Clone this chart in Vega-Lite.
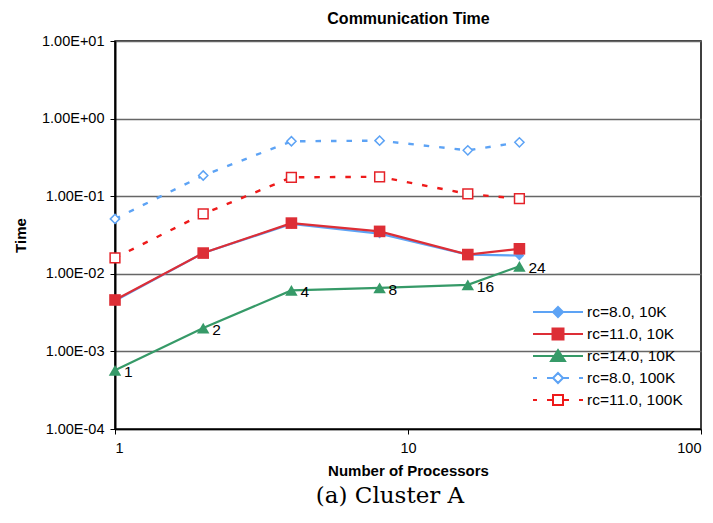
{
  "$schema": "https://vega.github.io/schema/vega-lite/v6.json",
  "width": 586,
  "height": 388,
  "autosize": "none",
  "padding": {"left": 115, "top": 41, "right": 12, "bottom": 94},
  "background": "white",
  "title": {
    "text": "(a) Cluster A",
    "orient": "bottom",
    "anchor": "middle",
    "font": "DejaVu Serif",
    "fontSize": 23,
    "fontWeight": "normal",
    "color": "black",
    "offset": 6,
    "dx": -18
  },
  "config": {
    "view": {"stroke": "black", "strokeWidth": 1.5},
    "font": "Liberation Sans",
    "axis": {
      "labelFont": "Liberation Sans",
      "titleFont": "Liberation Sans",
      "labelColor": "black",
      "titleColor": "black",
      "labelFontSize": 14.5,
      "titleFontSize": 15,
      "titleFontWeight": "bold"
    }
  },
  "data": {
    "values": [
      {"series": "rc=8.0, 10K", "n": 1, "t": 0.0045},
      {"series": "rc=8.0, 10K", "n": 2, "t": 0.0185},
      {"series": "rc=8.0, 10K", "n": 4, "t": 0.044},
      {"series": "rc=8.0, 10K", "n": 8, "t": 0.033},
      {"series": "rc=8.0, 10K", "n": 16, "t": 0.0177},
      {"series": "rc=8.0, 10K", "n": 24, "t": 0.0172},
      {"series": "rc=11.0, 10K", "n": 1, "t": 0.0046},
      {"series": "rc=11.0, 10K", "n": 2, "t": 0.0185},
      {"series": "rc=11.0, 10K", "n": 4, "t": 0.045},
      {"series": "rc=11.0, 10K", "n": 8, "t": 0.0352},
      {"series": "rc=11.0, 10K", "n": 16, "t": 0.0177},
      {"series": "rc=11.0, 10K", "n": 24, "t": 0.021},
      {"series": "rc=14.0, 10K", "n": 1, "t": 0.00057},
      {"series": "rc=14.0, 10K", "n": 2, "t": 0.002},
      {"series": "rc=14.0, 10K", "n": 4, "t": 0.0061},
      {"series": "rc=14.0, 10K", "n": 8, "t": 0.0066},
      {"series": "rc=14.0, 10K", "n": 16, "t": 0.0072},
      {"series": "rc=14.0, 10K", "n": 24, "t": 0.0125},
      {"series": "rc=8.0, 100K", "n": 1, "t": 0.051},
      {"series": "rc=8.0, 100K", "n": 2, "t": 0.185},
      {"series": "rc=8.0, 100K", "n": 4, "t": 0.51},
      {"series": "rc=8.0, 100K", "n": 8, "t": 0.52},
      {"series": "rc=8.0, 100K", "n": 16, "t": 0.39},
      {"series": "rc=8.0, 100K", "n": 24, "t": 0.495},
      {"series": "rc=11.0, 100K", "n": 1, "t": 0.016},
      {"series": "rc=11.0, 100K", "n": 2, "t": 0.059},
      {"series": "rc=11.0, 100K", "n": 4, "t": 0.175},
      {"series": "rc=11.0, 100K", "n": 8, "t": 0.178},
      {"series": "rc=11.0, 100K", "n": 16, "t": 0.107},
      {"series": "rc=11.0, 100K", "n": 24, "t": 0.093}
    ]
  },
  "resolve": {"axis": {"x": "independent"}},
  "layer": [
    {
      "transform": [{"filter": "indexof(datum.series, '100K') < 0"}],
      "mark": {"type": "line", "strokeWidth": 2.2},
      "encoding": {
        "x": {
          "field": "n", "type": "quantitative",
          "scale": {"type": "log", "domain": [1, 100], "nice": false},
          "axis": {
            "orient": "bottom",
            "values": [1, 10, 100],
            "format": "d",
            "grid": false,
            "tickSize": 5,
            "tickColor": "black",
            "domainColor": "black",
            "domainWidth": 1.5,
            "labelPadding": 7,
            "title": "Number of Processors",
            "titlePadding": 9
          }
        },
        "y": {
          "field": "t", "type": "quantitative",
          "scale": {"type": "log", "domain": [0.0001, 10], "nice": false},
          "axis": {
            "values": [0.0001, 0.001, 0.01, 0.1, 1, 10],
            "labelExpr": "'1.00E' + (round(log(datum.value)/LN10) < 0 ? '-' : '+') + (abs(round(log(datum.value)/LN10)) < 10 ? '0' : '') + abs(round(log(datum.value)/LN10))",
            "grid": true,
            "gridColor": "#666666",
            "gridWidth": 1.3,
            "tickSize": 5,
            "tickColor": "black",
            "domainColor": "black",
            "domainWidth": 2,
            "labelPadding": 6,
            "title": "Time",
            "titlePadding": 13
          }
        },
        "stroke": {
          "field": "series", "type": "nominal",
          "scale": {
            "domain": ["rc=8.0, 10K", "rc=11.0, 10K", "rc=14.0, 10K", "rc=8.0, 100K", "rc=11.0, 100K"],
            "range": ["#5DA3F5", "#DD2E36", "#369A68", "#5DA3F5", "#EE1A1A"]
          }
        }
      }
    },
    {
      "transform": [{"filter": "indexof(datum.series, '100K') >= 0"}],
      "mark": {"type": "line", "strokeWidth": 2.4, "strokeDash": [5.5, 10]},
      "encoding": {
        "x": {"field": "n", "type": "quantitative", "axis": null},
        "y": {"field": "t", "type": "quantitative"},
        "stroke": {"field": "series", "type": "nominal"}
      }
    },
    {
      "transform": [{"filter": "datum.series === 'rc=8.0, 10K'"}],
      "mark": {"type": "point", "filled": true, "shape": "diamond", "size": 95, "color": "#5DA3F5", "opacity": 1},
      "encoding": {
        "x": {"field": "n", "type": "quantitative", "axis": null},
        "y": {"field": "t", "type": "quantitative"}
      }
    },
    {
      "transform": [{"filter": "datum.series === 'rc=11.0, 10K'"}],
      "mark": {"type": "point", "filled": true, "shape": "square", "size": 135, "color": "#DD2E36", "opacity": 1},
      "encoding": {
        "x": {"field": "n", "type": "quantitative", "axis": null},
        "y": {"field": "t", "type": "quantitative"}
      }
    },
    {
      "transform": [{"filter": "datum.series === 'rc=14.0, 10K'"}],
      "mark": {"type": "point", "filled": true, "shape": "triangle-up", "size": 155, "color": "#369A68", "opacity": 1},
      "encoding": {
        "x": {"field": "n", "type": "quantitative", "axis": null},
        "y": {"field": "t", "type": "quantitative"}
      }
    },
    {
      "transform": [{"filter": "datum.series === 'rc=8.0, 100K'"}],
      "mark": {"type": "point", "filled": false, "shape": "diamond", "size": 85, "fill": "white", "stroke": "#5DA3F5", "strokeWidth": 1.5, "opacity": 1, "fillOpacity": 1},
      "encoding": {
        "x": {"field": "n", "type": "quantitative", "axis": null},
        "y": {"field": "t", "type": "quantitative"}
      }
    },
    {
      "transform": [{"filter": "datum.series === 'rc=11.0, 100K'"}],
      "mark": {"type": "point", "filled": false, "shape": "square", "size": 95, "fill": "white", "stroke": "#E52228", "strokeWidth": 1.5, "opacity": 1, "fillOpacity": 1},
      "encoding": {
        "x": {"field": "n", "type": "quantitative", "axis": null},
        "y": {"field": "t", "type": "quantitative"}
      }
    },
    {
      "mark": {"type": "point", "filled": true, "opacity": 0},
      "encoding": {
        "x": {"field": "n", "type": "quantitative", "axis": null},
        "y": {"field": "t", "type": "quantitative"},
        "stroke": {"field": "series", "type": "nominal"},
        "fill": {
          "field": "series", "type": "nominal",
          "scale": {
            "domain": ["rc=8.0, 10K", "rc=11.0, 10K", "rc=14.0, 10K", "rc=8.0, 100K", "rc=11.0, 100K"],
            "range": ["#5DA3F5", "#DD2E36", "#369A68", "white", "white"]
          }
        },
        "shape": {
          "field": "series", "type": "nominal",
          "scale": {
            "domain": ["rc=8.0, 10K", "rc=11.0, 10K", "rc=14.0, 10K", "rc=8.0, 100K", "rc=11.0, 100K"],
            "range": [
              "M-1,0H1M0,-0.2L0.2,0L0,0.2L-0.2,0ZM-0.13,-0.07H0.13M-0.13,0.07H0.13M-0.06,-0.14H0.06M-0.06,0.14H0.06",
              "M-1,0H1M-0.22,-0.22H0.22V0.22H-0.22ZM-0.22,-0.14H0.22M-0.22,-0.07H0.22M-0.22,0.07H0.22M-0.22,0.14H0.22",
              "M-1,0H1M0,-0.24L0.28,0.2H-0.28ZM-0.235,0.13H0.235M-0.19,0.06H0.19M-0.146,-0.01H0.146M-0.1,-0.08H0.1M-0.057,-0.15H0.057",
              "M-1,0H-0.84M-0.44,0H-0.2M0.2,0H0.44M0.84,0H1M0,-0.2L0.2,0L0,0.2L-0.2,0Z",
              "M-1,0H-0.84M-0.44,0H-0.2M0.2,0H0.44M0.84,0H1M-0.2,-0.2H0.2V0.2H-0.2Z"
            ]
          },
          "legend": {
            "title": null,
            "orient": "bottom-right",
            "offset": 18,
            "symbolSize": 2500,
            "clipHeight": 22,
            "rowPadding": 0,
            "labelFont": "Liberation Sans",
            "labelFontSize": 15.5,
            "labelColor": "black",
            "labelOffset": 3,
            "symbolStrokeWidth": 2,
            "symbolOpacity": 1,
            "symbolFillColor": "white",
            "symbolStrokeColor": "black"
          }
        }
      }
    },
    {
      "transform": [{"filter": "datum.series === 'rc=14.0, 10K'"}],
      "mark": {"type": "text", "align": "left", "baseline": "middle", "dx": 9, "dy": 2, "fontSize": 15.5, "font": "Liberation Sans", "color": "black"},
      "encoding": {
        "x": {
          "field": "n", "type": "quantitative",
          "axis": {
            "orient": "top",
            "labels": false,
            "ticks": false,
            "domain": false,
            "grid": false,
            "title": "Communication Time",
            "titleFontSize": 16,
            "titlePadding": 15
          }
        },
        "y": {"field": "t", "type": "quantitative"},
        "text": {"field": "n", "type": "quantitative"}
      }
    }
  ]
}
